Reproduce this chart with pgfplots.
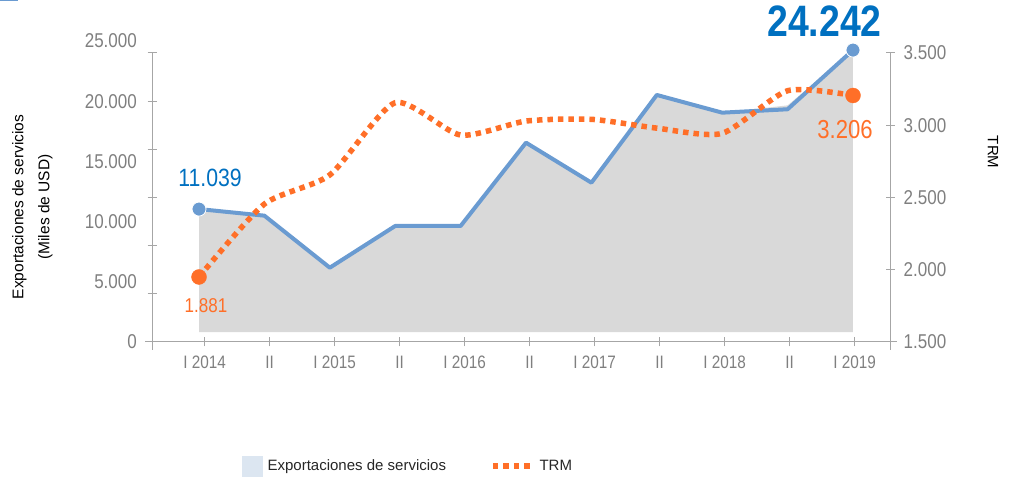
\documentclass[border=0pt]{standalone}
\usepackage{pgfplots}
\pgfplotsset{compat=1.18}
\usepackage{pgfplotstable}
\usepackage{fontspec}
\setmainfont{Liberation Sans}
\newfontfamily\narrow[FakeStretch=0.85]{Liberation Sans}
\definecolor{expblue}{HTML}{6A9BD1}
\definecolor{lblblue}{HTML}{0070C0}
\definecolor{trmorange}{HTML}{FF6F28}
\definecolor{areagray}{HTML}{D9D9D9}
\definecolor{leggray}{HTML}{DCE6F1}
\definecolor{axgray}{HTML}{A6A6A6}
\definecolor{tkgray}{HTML}{7F7F7F}

% semesters I 2014 ... I 2019
\pgfplotstableread{
x  exp    trm
0  11039  1950
1  10490  2455
2  6171   2656
3  9635   3156
4  9635   2932
5  16553  3029
6  13231  3041
7  20515  2980
8  19045  2944
9  19327  3239
10 24242  3206
}\data

\pgfplotsset{
  twin/.style={
    at={(152pt,136pt)}, anchor=south west,
    scale only axis, width=738pt, height=289pt,
    xmin=-0.719, xmax=10.566,
    axis line style={axgray, line width=1pt, -},
    tick style={axgray, line width=1pt},
    tick align=center, major tick length=9pt,
    tick label style={font=\narrow\fontsize{20}{22}\selectfont, text=tkgray},
    clip=false,
  },
}
\tikzset{
  ylab/.style={anchor=east, inner sep=0pt, font=\narrow\fontsize{20}{22}\selectfont,
    text=tkgray, xshift=-15pt},
}

\begin{document}
\begin{tikzpicture}
\useasboundingbox (0pt,0pt) rectangle (1016pt,478pt);
\fill[expblue] (0pt,476.5pt) rectangle (18pt,478pt);

\begin{axis}[
  twin,
  ymin=0, ymax=24000,
  axis x line*=bottom, axis y line*=left,
  x axis line style={-, shorten <=-7pt, shorten >=-7pt},
  y axis line style={-, shorten <=-8pt},
  xtick={0.086,1.080,2.074,3.068,4.062,5.056,6.049,7.043,8.037,9.031,10.025},
  xticklabels={I 2014,II,I 2015,II,I 2016,II,I 2017,II,I 2018,II,I 2019},
  xticklabel style={font=\narrow\fontsize{18}{20}\selectfont, yshift=-6pt},
  ytick={0,4000,8000,12000,16000,20000,24000},
  yticklabels={,,,,,,},
  scaled y ticks=false,
  ylabel={Exportaciones de servicios\\(Miles de USD)},
  ylabel style={at={(axis description cs:-0.162,0.467)}, anchor=center,
    align=center, font=\fontsize{15.5}{26}\selectfont, text=black},
]
% area
\addplot[fill=areagray, draw=none, forget plot] coordinates {
(0,830) (0,11039) (1,10490) (2,6171) (3,9635) (4,9635) (5,16553)
(6,13231) (7,20515) (8,19045) (9,19650) (10,24242) (10,830)
} -- cycle;
% line
\addplot[expblue, line width=4pt, line join=round, forget plot]
  table[x=x, y=exp] {\data};
\addplot[only marks, mark=*, mark size=7pt, forget plot,
  mark options={fill=expblue, draw=white, line width=0.8pt}]
  coordinates {(0,11039) (10,24242)};
% left tick labels
\node[ylab] at (axis cs:-0.719,0) {0};
\node[ylab] at (axis cs:-0.719,5000) {5.000};
\node[ylab] at (axis cs:-0.719,10000) {10.000};
\node[ylab] at (axis cs:-0.719,15000) {15.000};
\node[ylab] at (axis cs:-0.719,20000) {20.000};
\node[ylab] at (axis cs:-0.719,25000) {25.000};
% value labels
\node[font=\narrow\fontsize{25}{27}\selectfont, text=lblblue] at (axis cs:0.168,13619) {11.039};
\node[font=\narrow\bfseries\fontsize{44}{46}\selectfont, text=lblblue] at (axis cs:9.564,26657) {24.242};
\node[font=\narrow\fontsize{20}{22}\selectfont, text=trmorange] at (axis cs:0.107,3014) {1.881};
\node[font=\narrow\fontsize{26}{28}\selectfont, text=trmorange] at (axis cs:9.878,17605) {3.206};
\end{axis}

\begin{axis}[
  twin,
  ymin=1500, ymax=3500,
  axis x line=none, axis y line*=right,
  y axis line style={-, shorten <=-8pt},
  ytick={1500,2000,2500,3000,3500},
  yticklabels={1.500,2.000,2.500,3.000,3.500},
  yticklabel style={anchor=west, inner sep=0pt, xshift=9pt},
  ylabel={TRM},
  ylabel style={at={(axis description cs:1.1396,0.657)}, anchor=center,
    rotate=180, font=\fontsize{15}{17}\selectfont, text=black},
  legend style={at={(axis description cs:0.122,-0.429)}, anchor=west,
    draw=none, fill=none, inner sep=0pt, legend columns=2,
    font=\fontsize{15}{17}\selectfont, text=black!85,
    /tikz/every odd column/.append style={column sep=3pt},
    /tikz/every even column/.append style={column sep=42pt}},
  legend cell align=left,
]
\addplot[trmorange, line width=5.5pt, dash pattern=on 5.5pt off 5pt,
  smooth, tension=0.4, forget plot] table[x=x, y=trm] {\data};
\addplot[only marks, mark=*, mark size=7.5pt, trmorange, mark options={solid}, forget plot]
  coordinates {(0,1950) (10,3206)};
\addlegendimage{legend image code/.code={\fill[leggray] (0pt,-10pt) rectangle (20pt,10pt);}}
\addlegendentry{Exportaciones de servicios}
\addlegendimage{legend image code/.code={\draw[trmorange, line width=5.5pt,
  dash pattern=on 5.5pt off 5pt] (0pt,0pt) -- (39pt,0pt);}}
\addlegendentry{TRM}
\end{axis}
\end{tikzpicture}
\end{document}
